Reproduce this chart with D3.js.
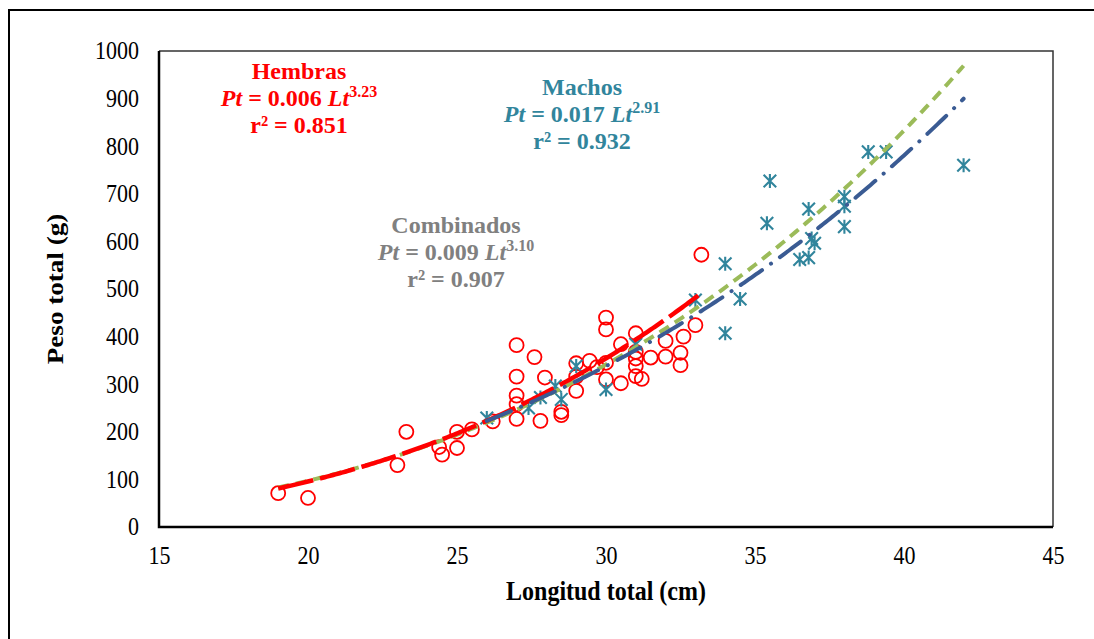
<!DOCTYPE html>
<html>
<head>
<meta charset="utf-8">
<script src="https://cdn.jsdelivr.net/npm/d3@7"></script>
<style>
  html, body { margin: 0; padding: 0; background: #fff; }
  svg { display: block; font-family: "Liberation Serif", "Times New Roman", serif; }
</style>
</head>
<body>
<svg id="chart" width="1094" height="639"></svg>
<script>
// Length (cm) and total weight (g) of females
const femaleLength = [19.0, 20.0, 23.0, 23.3, 24.4, 24.5, 25.0, 25.0, 25.5, 26.2,
  27.0, 27.0, 27.0, 27.0, 27.0, 27.6, 27.95, 27.8, 28.5, 28.5,
  29.0, 29.0, 29.0, 29.45, 29.7, 30.0, 30.0, 30.0, 30.0, 30.5, 30.5,
  31.0, 31.0, 31.0, 31.0, 31.0, 31.2, 31.5, 32.0, 32.0, 32.5, 32.5, 32.6, 33.0, 33.2];
const femaleWeight = [71, 61, 130, 200, 168, 152, 200, 166, 205, 222,
  382, 316, 276, 258, 227, 357, 314, 223, 242, 235,
  344, 316, 286, 349, 336, 440, 415, 345, 310, 384, 302,
  407, 368, 354, 338, 317, 311, 356, 391, 358, 366, 340, 400, 424, 572];

// Length (cm) and total weight (g) of males
const maleLength = [26.0, 27.4, 27.8, 28.3, 28.5, 29.0, 30.0, 31.0, 33.0, 34.0,
  34.0, 34.5, 35.4, 35.5, 36.5, 36.8, 36.8, 36.9, 37.0, 38.0,
  38.0, 38.0, 38.8, 39.4, 42.0];
const maleWeight = [229, 250, 272, 296, 268, 338, 289, 384, 477, 553,
  407, 479, 638, 727, 562, 566, 668, 606, 596, 694,
  674, 631, 788, 788, 760];

// Power fits Pt = a * Lt^b
const fitNames = ["Combinados", "Hembras", "Machos"];
const fitA = [0.009, 0.006, 0.017];
const fitB = [3.10, 3.23, 2.91];
const fitR2 = ["0.907", "0.851", "0.932"];
const fitFrom = [19, 19, 26];
const fitTo = [42, 33.2, 42];

const xTicks = [15, 20, 25, 30, 35, 40, 45];
const yTicks = [0, 100, 200, 300, 400, 500, 600, 700, 800, 900, 1000];

const RED = "#ff0000", TEAL = "#31859c", GRAY = "#808080", BLUE = "#3a5b93", GREEN = "#9bbb59";

const svg = d3.select("#chart");
const plot = { left: 159, right: 1053, top: 51, bottom: 527 };

const x = d3.scaleLinear().domain([15, 45]).range([plot.left, plot.right]);
const y = d3.scaleLinear().domain([0, 1000]).range([plot.bottom, plot.top]);

// Outer frame
svg.append("rect")
  .attr("x", 9).attr("y", 10).attr("width", 1200).attr("height", 800)
  .attr("fill", "none").attr("stroke", "#000").attr("stroke-width", 2);

// Axis tick labels (slightly tall serif digits)
const tall = 1.13;
const xAxis = svg.append("g")
  .attr("transform", `translate(0,${plot.bottom + 28})`)
  .call(d3.axisBottom(x).tickValues(xTicks).tickFormat(d3.format("d")).tickSize(0).tickPadding(0));
xAxis.select(".domain").remove();
xAxis.selectAll("text")
  .attr("font-family", "Liberation Serif, Times New Roman, serif")
  .attr("font-size", 22).attr("fill", "#000")
  .attr("y", 0).attr("dy", "0.35em")
  .attr("transform", `scale(1,${tall})`);

const yAxis = svg.append("g")
  .attr("transform", `translate(${plot.left - 20},0)`)
  .call(d3.axisLeft(y).tickValues(yTicks).tickFormat(d3.format("d")).tickSize(0).tickPadding(0));
yAxis.select(".domain").remove();
yAxis.selectAll("text")
  .attr("font-family", "Liberation Serif, Times New Roman, serif")
  .attr("font-size", 22).attr("fill", "#000")
  .attr("transform", `scale(1,${tall})`);

// Plot frame: light top/right, heavy left/bottom
svg.append("path")
  .attr("d", `M${plot.left},${plot.top}H${plot.right}V${plot.bottom}`)
  .attr("fill", "none").attr("stroke", "#333").attr("stroke-width", 1.5);
svg.append("path")
  .attr("d", `M${plot.left},${plot.top}V${plot.bottom}H${plot.right}`)
  .attr("fill", "none").attr("stroke", "#000").attr("stroke-width", 2.5);

// Axis titles
svg.append("text")
  .attr("transform", `translate(${(plot.left + plot.right) / 2},600) scale(1,${tall})`)
  .attr("text-anchor", "middle").attr("font-weight", "bold").attr("font-size", 24)
  .text("Longitud total (cm)");
svg.append("text")
  .attr("transform", `translate(63,${(plot.top + plot.bottom) / 2}) rotate(-90) scale(${tall},1)`)
  .attr("text-anchor", "middle").attr("font-weight", "bold").attr("font-size", 24)
  .text("Peso total (g)");

// Female points: open circles
svg.append("g").selectAll("circle")
  .data(femaleLength.map((l, i) => [l, femaleWeight[i]]))
  .join("circle")
  .attr("cx", d => x(d[0])).attr("cy", d => y(d[1])).attr("r", 7)
  .attr("fill", "none").attr("stroke", RED).attr("stroke-width", 1.8);

// Male points: asterisks
const s = 7, dgl = 6.3;
const star = `M0,${-s}V${s}M${-dgl},${-dgl}L${dgl},${dgl}M${-dgl},${dgl}L${dgl},${-dgl}`;
svg.append("g").selectAll("path")
  .data(maleLength.map((l, i) => [l, maleWeight[i]]))
  .join("path")
  .attr("transform", d => `translate(${x(d[0])},${y(d[1])})`)
  .attr("d", star)
  .attr("fill", "none").attr("stroke", TEAL).attr("stroke-width", 2.1);

// Fitted curves
const fitStyle = [
  { color: GREEN, dash: "11,7", width: 4, cap: "butt" },
  { color: RED, dash: "36,7", width: 4.5, cap: "butt" },
  { color: BLUE, dash: "26,11,0.1,11", width: 4, cap: "round" }
];
const line = d3.line().x(d => x(d[0])).y(d => y(d[1]));
fitNames.forEach((name, i) => {
  const pts = d3.range(0, 201).map(k => {
    const l = fitFrom[i] + (fitTo[i] - fitFrom[i]) * k / 200;
    return [l, fitA[i] * Math.pow(l, fitB[i])];
  });
  svg.append("path")
    .attr("d", line(pts))
    .attr("fill", "none")
    .attr("stroke", fitStyle[i].color)
    .attr("stroke-width", fitStyle[i].width)
    .attr("stroke-dasharray", fitStyle[i].dash)
    .attr("stroke-linecap", fitStyle[i].cap);
});

// Equation labels
const labels = [
  { i: 1, cx: 299, y0: 79, color: RED },
  { i: 2, cx: 582, y0: 95, color: TEAL },
  { i: 0, cx: 456, y0: 233, color: GRAY }
];
const lh = 27;
labels.forEach(lb => {
  const g = svg.append("g").attr("fill", lb.color).attr("font-weight", "bold").attr("font-size", 24)
    .attr("text-anchor", "middle");
  g.append("text").attr("x", lb.cx).attr("y", lb.y0).text(fitNames[lb.i]);
  const eq = g.append("text").attr("x", lb.cx).attr("y", lb.y0 + lh);
  eq.append("tspan").attr("font-style", "italic").text("Pt");
  eq.append("tspan").text(` = ${fitA[lb.i].toFixed(3)} `);
  eq.append("tspan").attr("font-style", "italic").text("Lt");
  eq.append("tspan").attr("font-size", 16).attr("dy", -9).text(fitB[lb.i].toFixed(2));
  g.append("text").attr("x", lb.cx).attr("y", lb.y0 + 2 * lh).text(`r² = ${fitR2[lb.i]}`);
});
</script>
</body>
</html>
